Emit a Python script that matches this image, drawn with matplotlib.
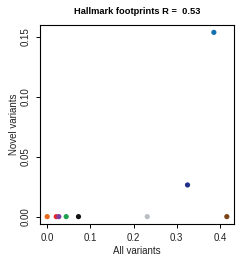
import matplotlib
matplotlib.use("Agg")
import matplotlib.pyplot as plt

plt.rcParams['font.family'] = ['Liberation Sans', 'DejaVu Sans']

all_variants = [0.0, 0.021, 0.027, 0.044, 0.0725, 0.2317, 0.325, 0.386, 0.416]
novel_variants = [0.0, 0.0, 0.0, 0.0, 0.0, 0.0, 0.0264, 0.1536, 0.0]
colors = ['#E66A1A', '#E8262A', '#7B3FA0', '#1FA050', '#111111', '#B8BEC4',
          '#1F2F8A', '#1570B0', '#7A4516']
title = "Hallmark footprints R =  0.53"
xticks = [0.0, 0.1, 0.2, 0.3, 0.4]
yticks = [0.00, 0.05, 0.10, 0.15]

fig = plt.figure(figsize=(2.41, 2.62), dpi=100)
ax = fig.add_axes([40/241, 38/262, 194/241, 199/262])
ax.scatter(all_variants, novel_variants, c=colors, s=14, linewidths=0, zorder=3)

xr = max(all_variants) - min(all_variants)
yr = max(novel_variants) - min(novel_variants)
ax.set_xlim(min(all_variants) - 0.04*xr, max(all_variants) + 0.04*xr)
ax.set_ylim(min(novel_variants) - 0.04*yr, max(novel_variants) + 0.04*yr)

ax.set_xticks(xticks)
ax.set_xticklabels([f"{v:.1f}" for v in xticks], fontsize=7, color='#222222')
ax.set_yticks(yticks)
ax.set_yticklabels([f"{v:.2f}" for v in yticks], fontsize=7, rotation=90, va='center',
                   color='#222222')
ax.tick_params(axis='x', length=3, width=0.7, pad=3.5)
ax.tick_params(axis='y', length=3, width=0.7, pad=3.5)
for s in ax.spines.values():
    s.set_linewidth(0.8)
ax.set_xlabel("All variants", fontsize=7, labelpad=2.5, color='#222222')
ax.set_ylabel("Novel variants", fontsize=7, labelpad=1.5, color='#222222')
ax.set_title(title, fontsize=6.7, fontweight='bold', pad=8)

fig.savefig("out.png", dpi=100)
